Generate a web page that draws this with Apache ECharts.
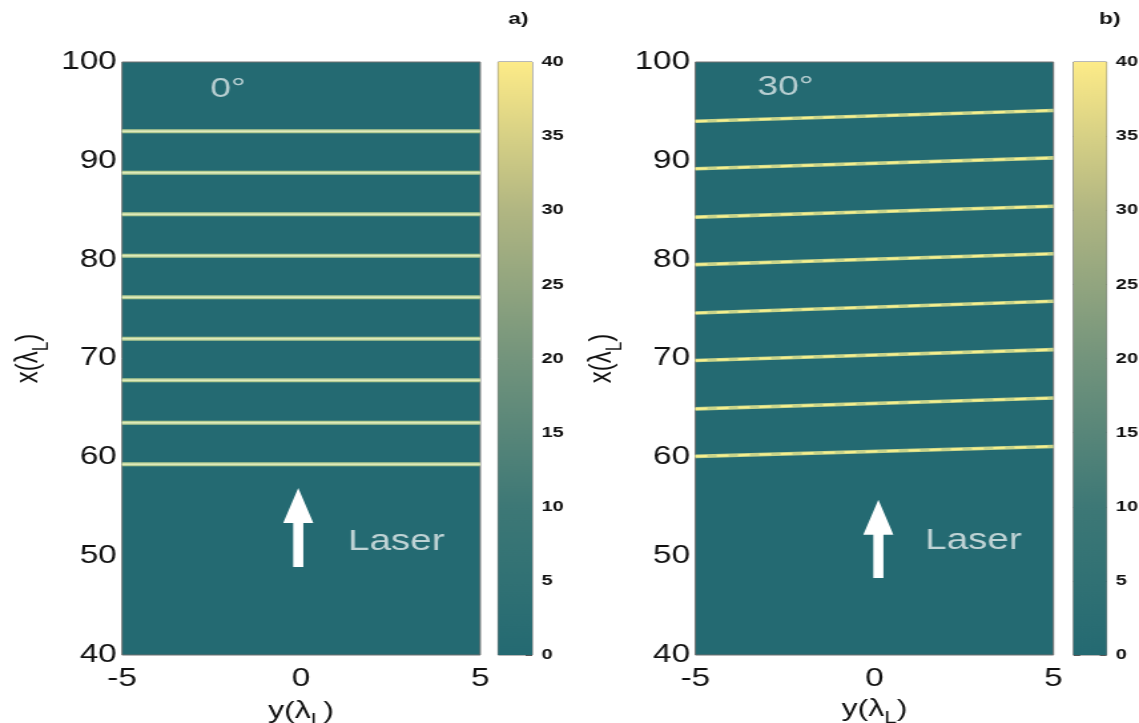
<!DOCTYPE html>
<html>
<head>
<meta charset="utf-8">
<script src="https://cdn.jsdelivr.net/npm/echarts@6/dist/echarts.min.js"></script>
<style>
  html, body { margin: 0; padding: 0; background: #ffffff; overflow: hidden; }
  /* the figure is laid out on a narrower canvas and stretched horizontally */
  #chart { width: 856px; height: 723px; transform: scaleX(1.3306); transform-origin: 0 0; }
</style>
</head>
<body>
<div id="chart"></div>
<script>
// ---- axis ranges and ticks (units of laser wavelength) ----
const yRange = [-5, 5];          // horizontal axis: y(λL)
const yTickStep = 5;
const xRange = [40, 100];        // vertical axis: x(λL)
const xTickStep = 10;

// ---- colour scale (intensity) ----
const intensityRange = [0, 40];
const intensityTickStep = 5;
const cmapValues = [0, 10, 20, 30, 40];
const cmapColors = ['#246a72', '#3d7876', '#73947c', '#b1b682', '#fdeb88'];

// ---- ridge positions x(λL) ----
// a) 0°: flat ridges
const ridgesA = [93.0, 88.8, 84.6, 80.4, 76.2, 72.0, 67.8, 63.5, 59.3];
// b) 30°: tilted ridges, x at y = -5 and at y = 5
const ridgesBStart = [94.0, 89.2, 84.3, 79.5, 74.6, 69.8, 64.9, 60.1];
const ridgesBEnd   = [95.1, 90.3, 85.4, 80.6, 75.8, 70.9, 66.0, 61.1];

// ---- annotations ----
const panelLetters = ['a)', 'b)'];
const angleLabels = [
  { name: '0°',  value: [-2.54, 97.2] },
  { name: '30°', value: [-3.27, 97.4] }
];
const laserLabels = [
  { name: 'Laser', value: [1.31, 51.4] },
  { name: 'Laser', value: [1.42, 51.5] }
];
// arrow: [y, x of tail, x of tip]
const laserArrows = [
  [-0.08, 48.9, 56.9],
  [0.11, 47.8, 55.7]
];

const FONT = '"Liberation Sans", Arial, Helvetica, sans-serif';
const BG = cmapColors[0];

const chart = echarts.init(document.getElementById('chart'), null, { renderer: 'canvas' });

function gradientFill() {
  const lo = intensityRange[0], hi = intensityRange[1];
  return {
    type: 'linear', x: 0, y: 1, x2: 0, y2: 0,
    colorStops: cmapValues.map((v, i) => ({ offset: (v - lo) / (hi - lo), color: cmapColors[i] }))
  };
}

const nameRich = {
  n: { fontFamily: FONT, fontSize: 24, color: '#111', verticalAlign: 'bottom', padding: [0, 0, 6, 0] },
  s: { fontFamily: FONT, fontSize: 17, color: '#111', verticalAlign: 'bottom' }
};

function mainX(gridIndex, gap) {
  return {
    type: 'value', gridIndex, min: yRange[0], max: yRange[1], interval: yTickStep,
    axisLine: { show: false }, axisTick: { show: false }, splitLine: { show: false },
    axisLabel: { fontFamily: FONT, fontSize: 25, color: '#111', margin: 12 },
    name: '{n|y(λ}{s|L}{n|)}', nameLocation: 'middle', nameGap: gap,
    nameTextStyle: { rich: nameRich }
  };
}
function mainY(gridIndex) {
  return {
    type: 'value', gridIndex, min: xRange[0], max: xRange[1], interval: xTickStep,
    axisLine: { show: false }, axisTick: { show: false }, splitLine: { show: false },
    axisLabel: { fontFamily: FONT, fontSize: 25, color: '#111', margin: 4 },
    name: '{n|x(λ}{s|L}{n|)}', nameLocation: 'middle', nameGap: 52, nameRotate: 90,
    nameTextStyle: { rich: nameRich }
  };
}
function cbarX(gridIndex) {
  return { type: 'category', gridIndex, data: ['I'], show: false, boundaryGap: true };
}
function cbarY(gridIndex, position, withLabels) {
  return {
    type: 'value', gridIndex, position, min: intensityRange[0], max: intensityRange[1],
    interval: intensityTickStep,
    axisLine: { show: false },
    axisTick: { show: true, inside: true, length: 5, lineStyle: { color: '#555', width: 1 } },
    splitLine: { show: false },
    axisLabel: withLabels
      ? { show: true, fontFamily: FONT, fontSize: 15, fontWeight: 'bold', color: '#111', margin: 7 }
      : { show: false }
  };
}

const series = [];

// a) flat ridges
ridgesA.forEach((x) => {
  series.push({
    type: 'line', xAxisIndex: 0, yAxisIndex: 0, silent: true, showSymbol: false, z: 3,
    data: [[yRange[0], x], [yRange[1], x]],
    lineStyle: { color: '#b3cc93', width: 4 }
  });
  series.push({
    type: 'line', xAxisIndex: 0, yAxisIndex: 0, silent: true, showSymbol: false, z: 4,
    data: [[yRange[0], x], [yRange[1], x]],
    lineStyle: { color: '#dfeabb', width: 1.6 }
  });
});

// b) tilted ridges
ridgesBStart.forEach((x0, i) => {
  const x1 = ridgesBEnd[i];
  series.push({
    type: 'line', xAxisIndex: 1, yAxisIndex: 1, silent: true, showSymbol: false, z: 3,
    data: [[yRange[0], x0], [yRange[1], x1]],
    lineStyle: { color: '#c9d48a', width: 3.6 }
  });
  series.push({
    type: 'line', xAxisIndex: 1, yAxisIndex: 1, silent: true, showSymbol: false, z: 4,
    data: [[yRange[0], x0], [yRange[1], x1]],
    lineStyle: { color: '#f6f08e', width: 2, type: [9, 7] }
  });
});

// laser arrows
function renderArrow(params, api) {
  const tail = api.coord([api.value(0), api.value(1)]);
  const tip = api.coord([api.value(0), api.value(2)]);
  const shaft = 3.8, head = 11.3, headLen = 35;
  const cx = tip[0];
  const baseY = tip[1] + headLen;
  return {
    type: 'polygon',
    shape: {
      points: [
        [cx - shaft, tail[1]], [cx - shaft, baseY], [cx - head, baseY], [cx, tip[1]],
        [cx + head, baseY], [cx + shaft, baseY], [cx + shaft, tail[1]]
      ]
    },
    style: { fill: '#ffffff' }
  };
}
laserArrows.forEach((a, i) => {
  series.push({
    type: 'custom', xAxisIndex: i, yAxisIndex: i, silent: true, z: 5,
    renderItem: renderArrow, data: [a]
  });
});

// text inside the panels
function textSeries(idx, item, size, color) {
  return {
    type: 'scatter', xAxisIndex: idx, yAxisIndex: idx, silent: true, z: 6,
    symbolSize: 0, data: [item],
    label: {
      show: true, position: 'right', distance: 0, formatter: '{b}',
      fontFamily: FONT, fontSize: size, color
    }
  };
}
angleLabels.forEach((it, i) => series.push(textSeries(i, it, 28, '#dce7e8')));
laserLabels.forEach((it, i) => series.push(textSeries(i, it, 29, '#e6eeee')));

// colour bars
[0, 1].forEach((i) => {
  series.push({
    type: 'bar', xAxisIndex: 2 + i, yAxisIndex: 2 + i, silent: true,
    barWidth: '100%', data: [intensityRange[1]],
    itemStyle: { color: gradientFill() }, z: 2
  });
});

const gridBase = { top: 62, height: 593, show: true, borderColor: '#707070', borderWidth: 1,
  containLabel: false, outerBoundsMode: 'none' };

const option = {
  animation: false,
  backgroundColor: '#ffffff',
  title: [
    { text: panelLetters[0], left: 382, top: 11, padding: 0,
      textStyle: { fontFamily: FONT, fontSize: 17, fontWeight: 'bold', color: '#111' } },
    { text: panelLetters[1], left: 826, top: 11, padding: 0,
      textStyle: { fontFamily: FONT, fontSize: 17, fontWeight: 'bold', color: '#111' } }
  ],
  grid: [
    Object.assign({}, gridBase, { left: 91.7, width: 269.2, backgroundColor: BG }),
    Object.assign({}, gridBase, { left: 522.6, width: 269.1, backgroundColor: BG }),
    Object.assign({}, gridBase, { left: 374.4, width: 25.6 }),
    Object.assign({}, gridBase, { left: 806.8, width: 24.8 })
  ],
  xAxis: [mainX(0, 44), mainX(1, 41), cbarX(2), cbarX(3)],
  yAxis: [
    mainY(0), mainY(1),
    cbarY(2, 'right', true), cbarY(3, 'right', true), cbarY(3, 'left', false)
  ],
  series
};

chart.setOption(option);
</script>
</body>
</html>
